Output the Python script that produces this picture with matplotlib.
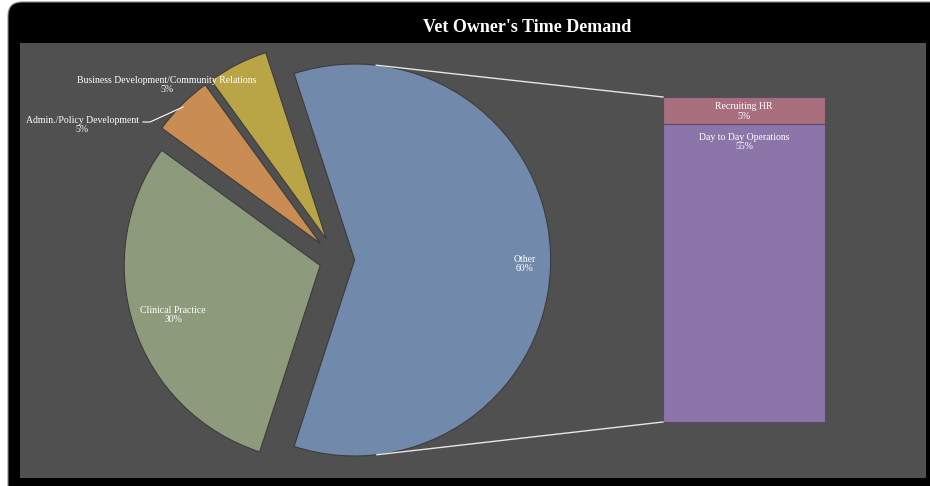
import numpy as np
import matplotlib
matplotlib.use('Agg')
import matplotlib.pyplot as plt
from matplotlib.patches import FancyBboxPatch

# ====== data ======
title = "Vet Owner's Time Demand"
pie_labels = ['Other', 'Business Development/Community Relations',
              'Admin./Policy Development', 'Clinical Practice']
pie_values = [60, 5, 5, 30]
bar_labels = ['Day to Day Operations', 'Recruiting HR']
bar_values = [55, 5]

pie_colors = ['#718aab', '#b9a446', '#c98c52', '#8d9b7c']
bar_colors = ['#8c76a9', '#a8707f']
bg = '#505050'

W, H = 930, 486
fig = plt.figure(figsize=(W / 100, H / 100), dpi=100, facecolor='white')

# black rounded frame
frame = fig.add_axes([0, 0, 1, 1])
frame.set_xlim(0, W)
frame.set_ylim(0, H)
frame.axis('off')
frame.add_patch(FancyBboxPatch((8, -30), 960, 514,
                               boxstyle='round,pad=0,rounding_size=14',
                               facecolor='black', edgecolor='#888888', lw=0.8))
fig.text(527 / W, 1 - 27 / H, title, color='white', fontsize=13,
         fontweight='bold', family='Liberation Serif', ha='center', va='center')

# plot area, data units = pixels (y up from bottom of grey area)
x0, x1, y0, y1 = 20, 926, 43, 478
ax = fig.add_axes([x0 / W, 1 - y1 / H, (x1 - x0) / W, (y1 - y0) / H])
ax.set_facecolor(bg)

cx, cy, r = 337, y1 - 260, 196
# explode distances in data units (pie offsets by this many units)
explode = [0.09 * r, 0.12 * r, 0.12 * r, 0.09 * r]
wedges, _ = ax.pie(pie_values, explode=explode, startangle=-108, counterclock=True,
                   colors=pie_colors, center=(cx, cy), radius=r, frame=True,
                   wedgeprops=dict(edgecolor='#3c3c3c', linewidth=0.8))
ax.set_xlim(x0, x1)
ax.set_ylim(0, y1 - y0)
ax.set_aspect('equal')
ax.set_xticks([])
ax.set_yticks([])
for s in ax.spines.values():
    s.set_visible(False)

txt = dict(color='white', fontsize=7, family='Liberation Serif',
           ha='center', va='center', linespacing=1.1)
ax.text(525, y1 - 264, f'{pie_labels[0]}\n{pie_values[0]}%', **txt)
ax.text(167, y1 - 85, f'{pie_labels[1]}\n{pie_values[1]}%', **txt)
ax.text(82, y1 - 125, f'{pie_labels[2]}\n{pie_values[2]}%', **txt)
ax.text(173, y1 - 315, f'{pie_labels[3]}\n{pie_values[3]}%', **txt)
ax.plot([143, 150, 183], [y1 - 122, y1 - 122, y1 - 107], color='white', lw=0.8)

# stacked bar of the "Other" share
bx, bw = 744, 162
bar_top, bar_bottom = y1 - 97, y1 - 422
scale = (bar_top - bar_bottom) / sum(bar_values)
bottom = bar_bottom
for lab, val, col in zip(bar_labels, bar_values, bar_colors):
    ax.bar(bx, val * scale, width=bw, bottom=bottom, color=col,
           edgecolor='#5a4a66', linewidth=0.8)
    top = bottom + val * scale
    if val * scale < 40:
        ax.text(bx, (bottom + top) / 2 - 1, f'{lab}\n{val}%', **txt)
    else:
        ax.text(bx, top - 18, f'{lab}\n{val}%', **txt)
    bottom = top

# connector lines: tangents from bar corners to the Other wedge
ocx = cx + explode[0]
ocy = cy
for py in (bar_top, bar_bottom):
    px = bx - bw / 2
    dx, dy = px - ocx, py - ocy
    d = np.hypot(dx, dy)
    base = np.arctan2(dy, dx)
    off = np.arccos(r / d)
    a = base + off if py > ocy else base - off
    tx, ty = ocx + r * np.cos(a), ocy + r * np.sin(a)
    ax.plot([tx, px], [ty, py], color='#e6e6e6', lw=1)

fig.savefig('out.png', dpi=100, facecolor=fig.get_facecolor())
